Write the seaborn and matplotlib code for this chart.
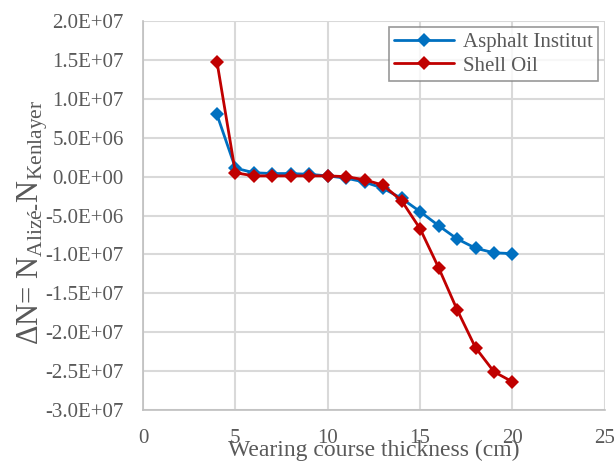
import numpy as np
import pandas as pd
import matplotlib
matplotlib.use("Agg")
import matplotlib.pyplot as plt
import seaborn as sns

thickness = [4, 5, 6, 7, 8, 9, 10, 11, 12, 13, 14, 15, 16, 17, 18, 19, 20]
asphalt_institut = [8.0e6, 1.1e6, 0.5e6, 0.4e6, 0.4e6, 0.3e6, 0.1e6, -0.2e6, -0.7e6, -1.5e6,
                    -2.8e6, -4.5e6, -6.3e6, -8.0e6, -9.2e6, -9.8e6, -9.9e6]
shell_oil = [14.8e6, 0.5e6, 0.1e6, 0.1e6, 0.1e6, 0.1e6, 0.1e6, 0.0e6, -0.4e6, -1.1e6,
             -3.1e6, -6.7e6, -11.7e6, -17.1e6, -22.0e6, -25.1e6, -26.4e6]
series_names = ["Asphalt Institut", "Shell Oil"]
y_ticks = [2.0e7, 1.5e7, 1.0e7, 5.0e6, 0.0, -5.0e6, -1.0e7, -1.5e7, -2.0e7, -2.5e7, -3.0e7]
x_ticks = [0, 5, 10, 15, 20, 25]

df = pd.concat([
    pd.DataFrame({"x": thickness, "y": asphalt_institut, "s": series_names[0]}),
    pd.DataFrame({"x": thickness, "y": shell_oil, "s": series_names[1]}),
])

sns.set_theme(style="white")
plt.rcParams["font.family"] = ["Liberation Serif", "DejaVu Serif"]
plt.rcParams["mathtext.fontset"] = "custom"
plt.rcParams["mathtext.rm"] = "Liberation Serif"
plt.rcParams["mathtext.it"] = "Liberation Serif:italic"

txt = "#595959"
fig = plt.figure(figsize=(6.14, 4.61), dpi=100)
ax = fig.add_axes([0.233, 0.111, 0.752, 0.843])

palette = {series_names[0]: "#0070C0", series_names[1]: "#C00000"}
sns.lineplot(data=df, x="x", y="y", hue="s", palette=palette, marker="D",
             markersize=7, markeredgewidth=0, linewidth=2, ax=ax, zorder=3)

ax.set_xlim(0, 25)
ax.set_ylim(-3.0e7, 2.0e7)
ax.set_xticks(x_ticks)
ax.set_yticks(y_ticks)
ax.set_yticklabels([f"{v:.1E}" for v in y_ticks])
ax.grid(True, color="#D9D9D9", linewidth=1.5)
ax.set_axisbelow(True)
for side in ["top", "right"]:
    ax.spines[side].set_visible(False)
for side in ["left", "bottom"]:
    ax.spines[side].set_color("#BFBFBF")
    ax.spines[side].set_linewidth(1.2)
ax.tick_params(axis="y", labelsize=15, colors=txt, length=0, pad=14)
ax.tick_params(axis="x", labelsize=15, colors=txt, length=0, pad=14)
for lab in ax.get_xticklabels() + ax.get_yticklabels():
    lab.set_color(txt)

ax.set_xlabel("Wearing course thickness (cm)", fontsize=17, color=txt, labelpad=-6)
ax.set_ylabel(r"$\Delta$N= N$_{\text{Alizé-}}$N$_{\text{Kenlayer}}$",
              fontsize=22, color=txt)
ax.yaxis.set_label_coords(-0.201, 0.481)

leg = ax.legend(loc="upper right", fontsize=15, frameon=True, fancybox=False,
                edgecolor="#7F7F7F", handlelength=2.9, handletextpad=0.4, borderpad=0.25,
                labelspacing=0.2, borderaxespad=0, bbox_to_anchor=(0.985, 0.985))
leg.get_frame().set_linewidth(1.2)
for t in leg.get_texts():
    t.set_color(txt)

fig.savefig("out.png", dpi=100)
